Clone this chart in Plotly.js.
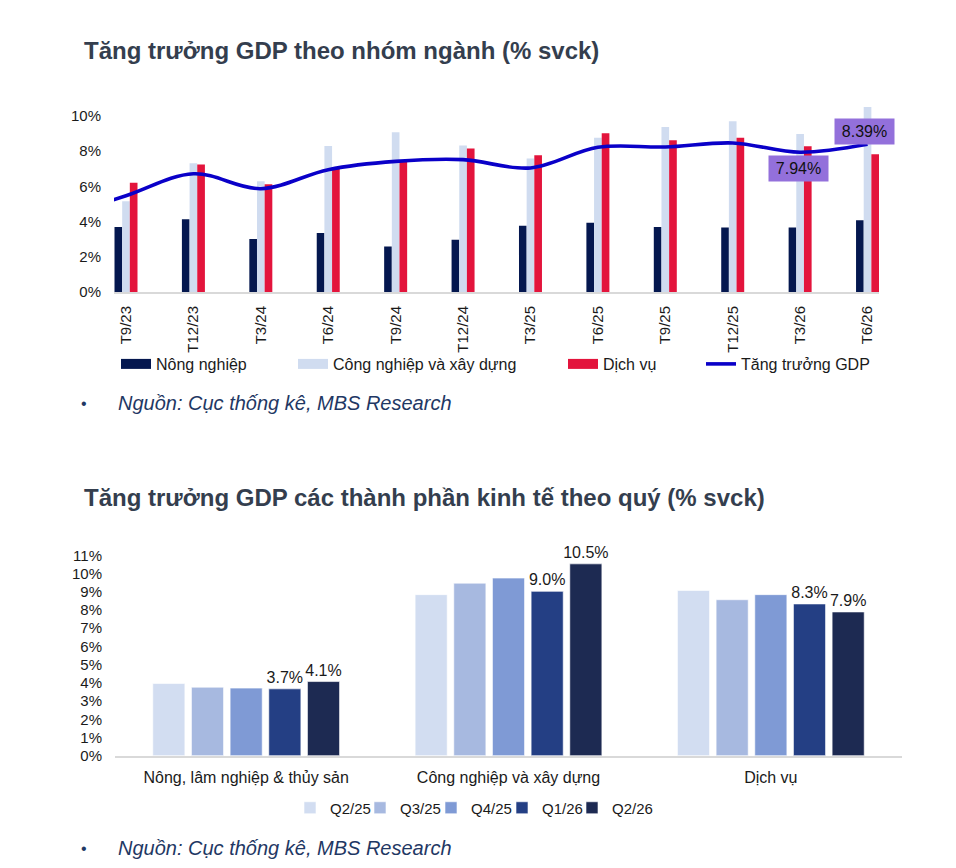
<!DOCTYPE html>
<html>
<head>
<meta charset="utf-8">
<script src="https://cdn.plot.ly/plotly-3.0.1.min.js"></script>
<style>
html,body{margin:0;padding:0;background:#ffffff;}
#chart{width:956px;height:868px;}
</style>
</head>
<body>
<div id="chart"></div>
<script>
// ---------- Chart 1 data: Tăng trưởng GDP theo nhóm ngành ----------
const periods = ['T9/23','T12/23','T3/24','T6/24','T9/24','T12/24','T3/25','T6/25','T9/25','T12/25','T3/26','T6/26'];
const nongNghiep = [3.69, 4.13, 3.01, 3.35, 2.58, 2.97, 3.77, 3.94, 3.69, 3.67, 3.67, 4.07];
const congNghiep = [5.15, 7.31, 6.29, 8.30, 9.07, 8.33, 7.58, 8.77, 9.38, 9.70, 8.98, 10.51];
const dichVu     = [6.21, 7.25, 6.12, 7.00, 7.48, 8.16, 7.77, 9.02, 8.62, 8.77, 8.28, 7.82];
const gdpGrowth  = [5.47, 6.72, 5.87, 6.95, 7.42, 7.52, 7.05, 8.22, 8.24, 8.47, 7.94, 8.39];
// the smoothed line enters from the left edge: previous quarter (off-axis)
const gdpPrevPeriod = 'T6/23';
const gdpPrevValue = 4.25;
const gdpLabelled = ['T3/26', 'T6/26'];
const series1Names = ['Nông nghiệp', 'Công nghiệp và xây dựng', 'Dịch vụ', 'Tăng trưởng GDP'];

// ---------- Chart 2 data: Tăng trưởng GDP các thành phần kinh tế theo quý ----------
const sectors = ['Nông, lâm nghiệp & thủy sản', 'Công nghiệp và xây dựng', 'Dịch vụ'];
const quarters = ['Q2/25', 'Q3/25', 'Q4/25', 'Q1/26', 'Q2/26'];
const q2_25 = [3.96, 8.84, 9.07];
const q3_25 = [3.76, 9.47, 8.56];
const q4_25 = [3.71, 9.75, 8.84];
const q1_26 = [3.67, 9.02, 8.33];
const q2_26 = [4.07, 10.53, 7.89];
const labelledQuarters = ['Q1/26', 'Q2/26'];

// ---------- helpers ----------
const W = 956, H = 868;
const px = v => v / W;
const py = v => 1 - v / H;
const idx = periods.map((_, i) => i);

const baseFont = 'Liberation Sans, Arial, Helvetica, sans-serif';
const textCol = '#1a1a1a';

// ---------- traces ----------
const barW = 0.1137;
const colors1 = ['#04174f', '#d0dcf0', '#e3143c'];
const values1 = [nongNghiep, congNghiep, dichVu];
const legends1 = ['legend', 'legend2', 'legend3', 'legend4'];
const traces = [];
values1.forEach((vals, i) => {
  traces.push({
    type: 'bar', name: series1Names[i], x: idx, y: vals,
    xaxis: 'x', yaxis: 'y', width: barW, offset: (i - 1.5) * barW,
    marker: {color: colors1[i]}, showlegend: false, hoverinfo: 'skip'
  });
});
traces.push({
  type: 'scatter', mode: 'lines', name: series1Names[3],
  x: [-1].concat(idx), y: [gdpPrevValue].concat(gdpGrowth),
  xaxis: 'x', yaxis: 'y',
  line: {color: '#0a00c8', width: 3.6, shape: 'spline', smoothing: 1},
  legend: legends1[3], hoverinfo: 'skip'
});
// legend keys for the bar series (wide rectangles as in the source chart)
values1.forEach((vals, i) => {
  traces.push({
    type: 'scatter', mode: 'lines', name: series1Names[i], x: [null], y: [null],
    xaxis: 'x', yaxis: 'y', line: {color: colors1[i], width: 12},
    legend: legends1[i], hoverinfo: 'skip'
  });
});

const qColors = ['#d2ddf1', '#a7b9e0', '#7f9ad5', '#243f84', '#1d2a52'];
const qValues = [q2_25, q3_25, q4_25, q1_26, q2_26];
const legends2 = ['legend5', 'legend6', 'legend7', 'legend8', 'legend9'];
quarters.forEach((q, i) => {
  const labelled = labelledQuarters.includes(q);
  traces.push({
    type: 'bar', name: q, x: sectors, y: qValues[i],
    xaxis: 'x2', yaxis: 'y2',
    marker: {color: qColors[i], line: {color: 'rgba(255,255,255,0.6)', width: 1}},
    text: labelled ? qValues[i].map(v => v.toFixed(1) + '%') : undefined,
    texttemplate: labelled ? '%{text}' : undefined,
    textposition: labelled ? 'outside' : 'none',
    constraintext: 'none',
    textfont: {family: baseFont, size: 16, color: textCol},
    cliponaxis: false,
    legend: legends2[i], hoverinfo: 'skip'
  });
});

// ---------- annotations ----------
const titleFont = {family: baseFont, size: 24, color: '#343e4e'};
const srcFont = {family: baseFont, size: 20, color: '#1f3864'};
const annotations = [
  {text: '<b>Tăng trưởng GDP theo nhóm ngành (% svck)</b>', xref: 'paper', yref: 'paper',
   x: px(82), y: py(50), xanchor: 'left', yanchor: 'middle', showarrow: false, font: titleFont},
  {text: '<b>Tăng trưởng GDP các thành phần kinh tế theo quý (% svck)</b>', xref: 'paper', yref: 'paper',
   x: px(82), y: py(497), xanchor: 'left', yanchor: 'middle', showarrow: false, font: titleFont},
  {text: '•', xref: 'paper', yref: 'paper', x: px(84), y: py(403), xanchor: 'center', yanchor: 'middle',
   showarrow: false, font: {family: baseFont, size: 16, color: '#1f3864'}},
  {text: '<i>Nguồn: Cục thống kê, MBS Research</i>', xref: 'paper', yref: 'paper',
   x: px(116), y: py(403), xanchor: 'left', yanchor: 'middle', showarrow: false, font: srcFont},
  {text: '•', xref: 'paper', yref: 'paper', x: px(84), y: py(848), xanchor: 'center', yanchor: 'middle',
   showarrow: false, font: {family: baseFont, size: 16, color: '#1f3864'}},
  {text: '<i>Nguồn: Cục thống kê, MBS Research</i>', xref: 'paper', yref: 'paper',
   x: px(116), y: py(848), xanchor: 'left', yanchor: 'middle', showarrow: false, font: srcFont}
];
const labelShifts = {'T3/26': [-2, -16], 'T6/26': [-3, 13]};
gdpLabelled.forEach(p => {
  const i = periods.indexOf(p);
  annotations.push({
    text: gdpGrowth[i].toFixed(2) + '%', xref: 'x', yref: 'y', x: i, y: gdpGrowth[i],
    xanchor: 'center', yanchor: 'middle', showarrow: false,
    xshift: labelShifts[p][0], yshift: labelShifts[p][1],
    bgcolor: '#9370db', borderpad: 3, width: 53, height: 19,
    font: {family: baseFont, size: 16, color: '#111111'}
  });
});

// ---------- layout ----------
const legendBase = (xPx, yPx, size) => ({
  orientation: 'h', x: px(xPx), y: py(yPx), xanchor: 'left', yanchor: 'middle',
  font: {family: baseFont, size: size, color: textCol}, bgcolor: 'rgba(0,0,0,0)',
  itemclick: false, itemdoubleclick: false
});

const layout = {
  width: W, height: H,
  margin: {l: 0, r: 0, t: 0, b: 0},
  paper_bgcolor: '#ffffff', plot_bgcolor: 'rgba(0,0,0,0)',
  font: {family: baseFont, size: 15, color: textCol},
  barmode: 'group', bargap: 0.263, bargroupgap: 0.17,
  showlegend: true,
  xaxis: {
    domain: [px(114), px(879)], range: [-0.178, 11.17], anchor: 'y',
    tickvals: idx, ticktext: periods, tickangle: -90,
    showline: true, linecolor: '#d9d9d9', linewidth: 2,
    showgrid: false, zeroline: false, ticks: '', ticklabelstandoff: 6,
    tickfont: {family: baseFont, size: 15, color: textCol}, fixedrange: true
  },
  yaxis: {
    domain: [py(292), py(98.4)], range: [0, 11], anchor: 'x',
    tick0: 0, dtick: 2, ticksuffix: '%',
    showline: false, showgrid: false, zeroline: false, ticks: '', ticklabelstandoff: 12,
    tickfont: {family: baseFont, size: 15, color: textCol}, fixedrange: true
  },
  xaxis2: {
    domain: [px(115), px(902)], anchor: 'y2', type: 'category',
    showline: true, linecolor: '#d9d9d9', linewidth: 2,
    showgrid: false, zeroline: false, ticks: '', ticklabelstandoff: 6,
    tickfont: {family: baseFont, size: 16, color: textCol}, fixedrange: true
  },
  yaxis2: {
    domain: [py(755.7), py(555.3)], range: [0, 11], anchor: 'x2',
    tick0: 0, dtick: 1, ticksuffix: '%',
    showline: false, showgrid: false, zeroline: false, ticks: '', ticklabelstandoff: 12,
    tickfont: {family: baseFont, size: 15, color: textCol}, fixedrange: true
  },
  legend:  legendBase(116, 364, 16),
  legend2: legendBase(293, 364, 16),
  legend3: legendBase(563, 364, 16),
  legend4: legendBase(701, 364, 16),
  legend5: legendBase(290, 808, 15),
  legend6: legendBase(360, 808, 15),
  legend7: legendBase(431, 808, 15),
  legend8: legendBase(502, 808, 15),
  legend9: legendBase(572, 808, 15),
  annotations: annotations
};

Plotly.newPlot('chart', traces, layout, {staticPlot: true, displayModeBar: false});
</script>
</body>
</html>
